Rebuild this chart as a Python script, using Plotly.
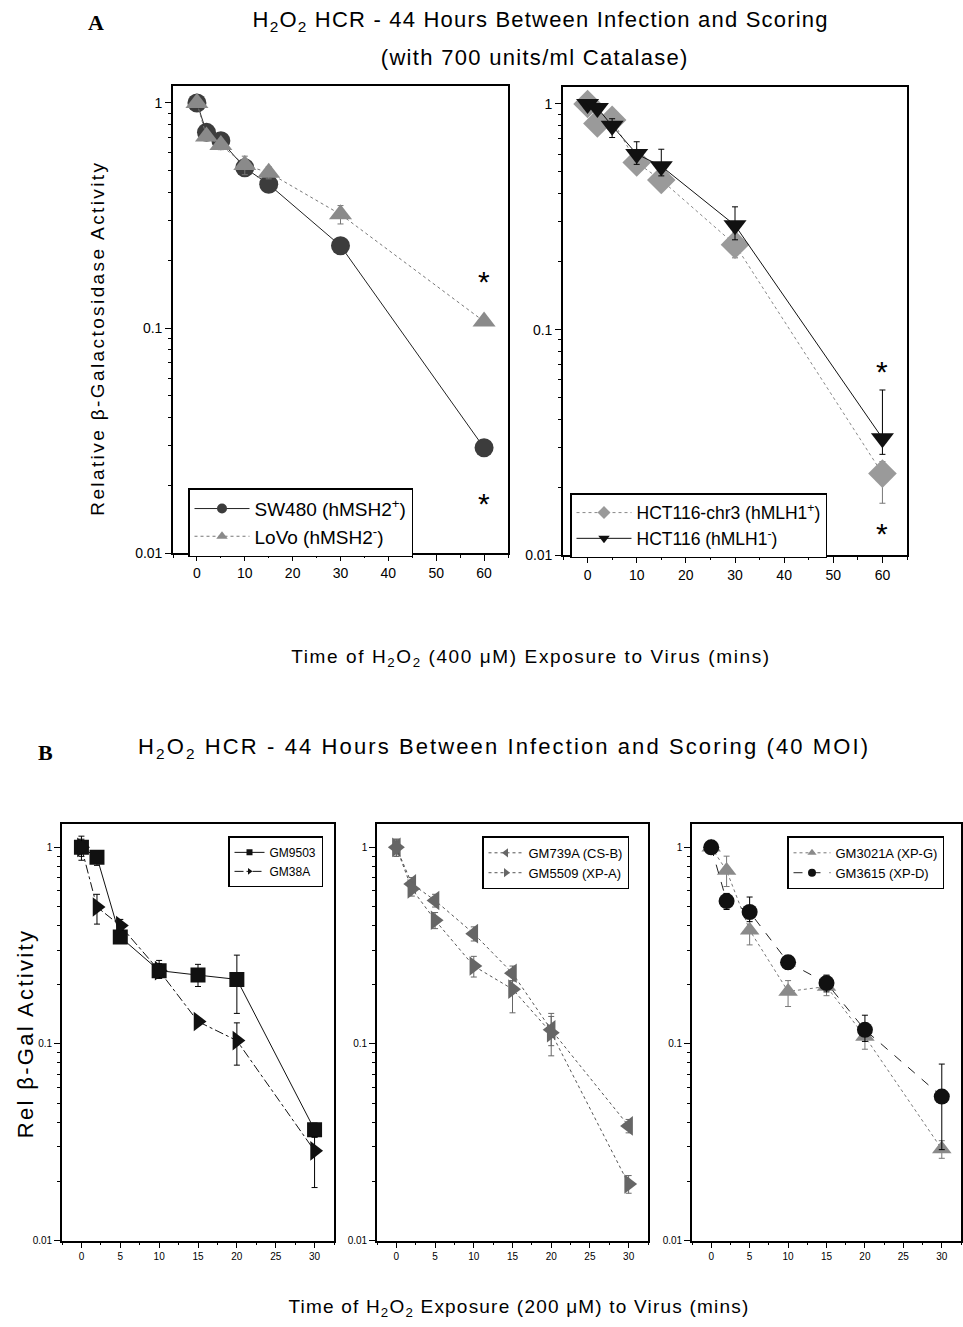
import math
import json
import plotly.graph_objects as go

# ---------------- data ----------------
t_a = [0, 2, 5, 10, 15, 30, 60]
sw480 = [1.0, 0.74, 0.68, 0.515, 0.435, 0.232, 0.0294]
sw480_err = [0.02, 0.02, 0.02, 0.02, 0.02, 0.01, 0.001]
lovo = [1.0, 0.71, 0.65, 0.53, 0.49, 0.32, 0.107]
lovo_err = [0.03, 0.03, 0.03, 0.05, 0.03, 0.03, 0.004]

hct_chr3 = [1.0, 0.82, 0.85, 0.55, 0.46, 0.238, 0.023]
hct_chr3_err_plus = [0.02, 0.05, 0.06, 0.04, 0.04, 0.03, 0.003]
hct_chr3_err_minus = [0.02, 0.05, 0.06, 0.04, 0.04, 0.03, 0.006]
hct116 = [1.0, 0.96, 0.80, 0.60, 0.53, 0.29, 0.033]
hct116_err_plus = [0.02, 0.03, 0.06, 0.08, 0.10, 0.06, 0.021]
hct116_err_minus = [0.02, 0.03, 0.09, 0.06, 0.05, 0.04, 0.005]

stars_a1_x = [60, 60]
stars_a1_y = [0.171, 0.0176]
stars_a2_x = [60, 60]
stars_a2_y = [0.069, 0.0133]

t_b = [0, 2, 5, 10, 15, 20, 30]
gm9503 = [1.0, 0.89, 0.35, 0.236, 0.224, 0.213, 0.0366]
gm9503_err_plus = [0.14, 0.02, 0.02, 0.02, 0.03, 0.07, 0.003]
gm9503_err_minus = [0.14, 0.08, 0.02, 0.02, 0.028, 0.07, 0.003]
gm38a = [1.0, 0.497, 0.40, 0.236, 0.130, 0.104, 0.0286]
gm38a_err_plus = [0.10, 0.08, 0.03, 0.03, 0.005, 0.024, 0.005]
gm38a_err_minus = [0.10, 0.09, 0.02, 0.02, 0.005, 0.026, 0.010]

gm739a = [1.0, 0.652, 0.537, 0.364, 0.229, 0.118, 0.0383]
gm739a_err = [0.10, 0.05, 0.04, 0.03, 0.02, 0.02, 0.003]
gm5509 = [1.0, 0.615, 0.426, 0.249, 0.19, 0.114, 0.0194]
gm5509_err_plus = [0.10, 0.05, 0.04, 0.03, 0.02, 0.029, 0.002]
gm5509_err_minus = [0.10, 0.05, 0.04, 0.03, 0.046, 0.027, 0.002]

gm3021a = [1.0, 0.762, 0.379, 0.185, 0.196, 0.109, 0.0292]
gm3021a_err_plus = [0.05, 0.14, 0.06, 0.025, 0.02, 0.015, 0.003]
gm3021a_err_minus = [0.05, 0.13, 0.06, 0.03, 0.02, 0.015, 0.003]
gm3615 = [1.0, 0.533, 0.469, 0.26, 0.204, 0.118, 0.054]
gm3615_err_plus = [0.05, 0.05, 0.09, 0.02, 0.02, 0.022, 0.025]
gm3615_err_minus = [0.05, 0.05, 0.05, 0.02, 0.02, 0.015, 0.025]

y_ticks = [0.01, 0.1, 1]
y_ticktext = ["0.01", "0.1", "1"]
x_ticks_a = [0, 10, 20, 30, 40, 50, 60]
x_ticks_b = [0, 5, 10, 15, 20, 25, 30]

# ---------------- layout helpers ----------------
W, H = 963, 1327
SY = 1.0065  # vertical correction so page pixels line up with the reference
FONT = "Liberation Sans, Arial, Helvetica, sans-serif"
SERIF = "Liberation Serif, Times New Roman, serif"


def px(x0, x1):
    return [x0 / W, x1 / W]


def yp(y):
    return 1 - y * SY / H


def py(y0, y1):
    return [yp(y1), yp(y0)]


minor_log = [m * 10 ** e for e in (-2, -1) for m in range(2, 10)]

fig = go.Figure()


def err(plus, minus=None, color="black"):
    d = dict(type="data", array=plus, color=color, thickness=1, width=3, visible=True)
    if minus is not None:
        d["symmetric"] = False
        d["arrayminus"] = minus
    return d


def add(x, y, name, ax, legend, symbol, size, mcolor, lcolor, dash, e, lsize=9):
    fig.add_trace(go.Scatter(
        x=x, y=y, name=name, mode="lines+markers", showlegend=False,
        xaxis="x" + ax, yaxis="y" + ax,
        marker=dict(symbol=symbol, size=size, color=mcolor, line=dict(width=0)),
        line=dict(color=lcolor, width=1, dash=dash),
        error_y=e,
    ))
    fig.add_trace(go.Scatter(
        x=[None], y=[None], name=name, mode="lines+markers", showlegend=True,
        xaxis="x" + ax, yaxis="y" + ax, legend=legend,
        marker=dict(symbol=symbol, size=lsize, color=mcolor, line=dict(width=0)),
        line=dict(color=lcolor, width=1, dash=dash),
    ))


add(t_a, sw480, "SW480 (hMSH2<sup>+</sup>)", "", "legend", "circle", 19, "#3c3c3c", "#222222", "solid", err(sw480_err), 10)
add(t_a, lovo, "LoVo (hMSH2<sup>-</sup>)", "", "legend", "triangle-up", 20, "#8a8a8a", "#777777", "dot", err(lovo_err, color="#777"), 10)
add(t_a, hct_chr3, "HCT116-chr3 (hMLH1<sup>+</sup>)", "2", "legend2", "diamond", 22, "#9a9a9a", "#888888", "dot", err(hct_chr3_err_plus, hct_chr3_err_minus, "#777"), 10)
add(t_a, hct116, "HCT116 (hMLH1<sup>-</sup>)", "2", "legend2", "triangle-down", 20, "#111111", "#111111", "solid", err(hct116_err_plus, hct116_err_minus), 10)
add(t_b, gm9503, "GM9503", "3", "legend3", "square", 15, "#111111", "#111111", "solid", err(gm9503_err_plus, gm9503_err_minus), 6)
add(t_b, gm38a, "GM38A", "3", "legend3", "triangle-right", 17, "#111111", "#111111", "dashdot", err(gm38a_err_plus, gm38a_err_minus), 6)
add(t_b, gm739a, "GM739A (CS-B)", "4", "legend4", "triangle-left", 17, "#666666", "#555555", "dot", err(gm739a_err, color="#666"), 8)
add(t_b, gm5509, "GM5509 (XP-A)", "4", "legend4", "triangle-right", 17, "#666666", "#555555", "dot", err(gm5509_err_plus, gm5509_err_minus, "#666"), 8)
add(t_b, gm3021a, "GM3021A (XP-G)", "5", "legend5", "triangle-up", 17, "#8a8a8a", "#777777", "dot", err(gm3021a_err_plus, gm3021a_err_minus, "#777"), 8)
add(t_b, gm3615, "GM3615 (XP-D)", "5", "legend5", "circle", 16, "#111111", "#222222", "dash", err(gm3615_err_plus, gm3615_err_minus), 8)


def xax(dom, rng, ticks, minor_dtick, fsize, anchor):
    return dict(domain=dom, range=rng, tickvals=ticks, ticks="outside", ticklen=6,
                tickwidth=1.2, tickcolor="black", showline=True, linecolor="black",
                linewidth=1.6, mirror=True, showgrid=False, zeroline=False, anchor=anchor,
                tickfont=dict(family=FONT, size=fsize, color="black"),
                minor=dict(tick0=0, dtick=minor_dtick, ticks="outside", ticklen=3,
                           tickcolor="black", showgrid=False))


def yax(dom, rng, fsize, anchor):
    return dict(domain=dom, type="log", range=rng, tickvals=y_ticks, ticktext=y_ticktext,
                ticks="outside", ticklen=6, tickwidth=1.2, tickcolor="black",
                showline=True, linecolor="black", linewidth=1.6, mirror=True,
                showgrid=False, zeroline=False, anchor=anchor,
                tickfont=dict(family=FONT, size=fsize, color="black"),
                minor=dict(tickvals=minor_log, ticks="outside", ticklen=3,
                           tickcolor="black", showgrid=False))


layout = dict(
    width=W, height=H, margin=dict(l=0, r=0, t=0, b=0),
    paper_bgcolor="white", plot_bgcolor="white", showlegend=True,
    font=dict(family=FONT, color="black"),
)
layout["xaxis"] = xax(px(173, 508), [-5, 65], x_ticks_a, 5, 14, "y")
layout["yaxis"] = yax(py(86, 553), [-2, 0.075], 14, "x")
layout["xaxis2"] = xax(px(563, 907), [-5, 65], x_ticks_a, 5, 14, "y2")
layout["yaxis2"] = yax(py(87, 555), [-2, 0.075], 14, "x2")
layout["xaxis3"] = xax(px(62, 334), [-2.5, 32.5], x_ticks_b, 2.5, 10, "y3")
layout["yaxis3"] = yax(py(824, 1240), [-2, 0.117], 10, "x3")
layout["xaxis4"] = xax(px(377, 648), [-2.5, 32.5], x_ticks_b, 2.5, 10, "y4")
layout["yaxis4"] = yax(py(824, 1240), [-2, 0.117], 10, "x4")
layout["xaxis5"] = xax(px(692, 961), [-2.5, 32.5], x_ticks_b, 2.5, 10, "y5")
layout["yaxis5"] = yax(py(824, 1240), [-2, 0.117], 10, "x5")


def leg(x, y, fsize, iw):
    return dict(x=x / W, y=yp(y), xanchor="left", yanchor="top",
                bgcolor="white", bordercolor="black", borderwidth=1.5,
                font=dict(family=FONT, size=fsize, color="black"),
                itemwidth=iw, tracegroupgap=0)


layout["legend"] = leg(188, 488, 19, 55)
layout["legend2"] = leg(570, 493, 17.5, 55)
layout["legend3"] = leg(228, 836, 12, 30)
layout["legend4"] = leg(482, 836, 13, 35)
layout["legend5"] = leg(787, 836, 13, 37)

fig.update_layout(**layout)

ann = []
spacing = []


def text(x, y, s, size, angle=0, bold=False, family=FONT, ls=0):
    ann.append(dict(x=x / W, y=yp(y), xref="paper", yref="paper", text=("<b>%s</b>" % s if bold else s),
                    showarrow=False, textangle=angle, xanchor="center", yanchor="middle",
                    font=dict(family=family, size=size, color="black")))
    spacing.append(ls)


text(96, 22, "A", 22, bold=True, family=SERIF)
text(540, 21, "H<sub>2</sub>O<sub>2</sub> HCR - 44 Hours Between Infection and Scoring", 22, ls=1.2)
text(534, 57, "(with 700 units/ml Catalase)", 22, ls=1.3)
text(97, 338, "Relative β-Galactosidase Activity", 19, angle=-90, ls=2.4)
text(531, 658, "Time of H<sub>2</sub>O<sub>2</sub> (400 μM) Exposure to Virus (mins)", 19, ls=1.6)
text(45, 752, "B", 22, bold=True, family=SERIF)
text(504, 748, "H<sub>2</sub>O<sub>2</sub> HCR - 44 Hours Between Infection and Scoring (40 MOI)", 22, ls=2.1)
text(25, 1033, "Rel β-Gal Activity", 22, angle=-90, ls=2.3)
text(519, 1307, "Time of H<sub>2</sub>O<sub>2</sub> Exposure (200 μM) to Virus (mins)", 19, ls=1.2)

for xs, ys, ax in ((stars_a1_x, stars_a1_y, ""), (stars_a2_x, stars_a2_y, "2")):
    for xv, yv in zip(xs, ys):
        ann.append(dict(x=xv, y=math.log10(yv), xref="x" + ax, yref="y" + ax, text="*",
                        showarrow=False, font=dict(family=FONT, size=30, color="black"),
                        yanchor="middle", yshift=-6))
        spacing.append(0)

fig.update_layout(annotations=ann)

post = (
    "document.body.style.margin='0';"
    "var gd=document.getElementById('{plot_id}');"
    "var ls=" + json.dumps(spacing) + ";"
    "gd.querySelectorAll('.annotation').forEach(function(g){"
    "var i=+g.getAttribute('data-index');var t=g.querySelector('.annotation-text');"
    "if(t&&ls[i]){t.style.letterSpacing=ls[i]+'px';}});"
)

fig.write_html("out.html", post_script=post, config={"displayModeBar": False})
